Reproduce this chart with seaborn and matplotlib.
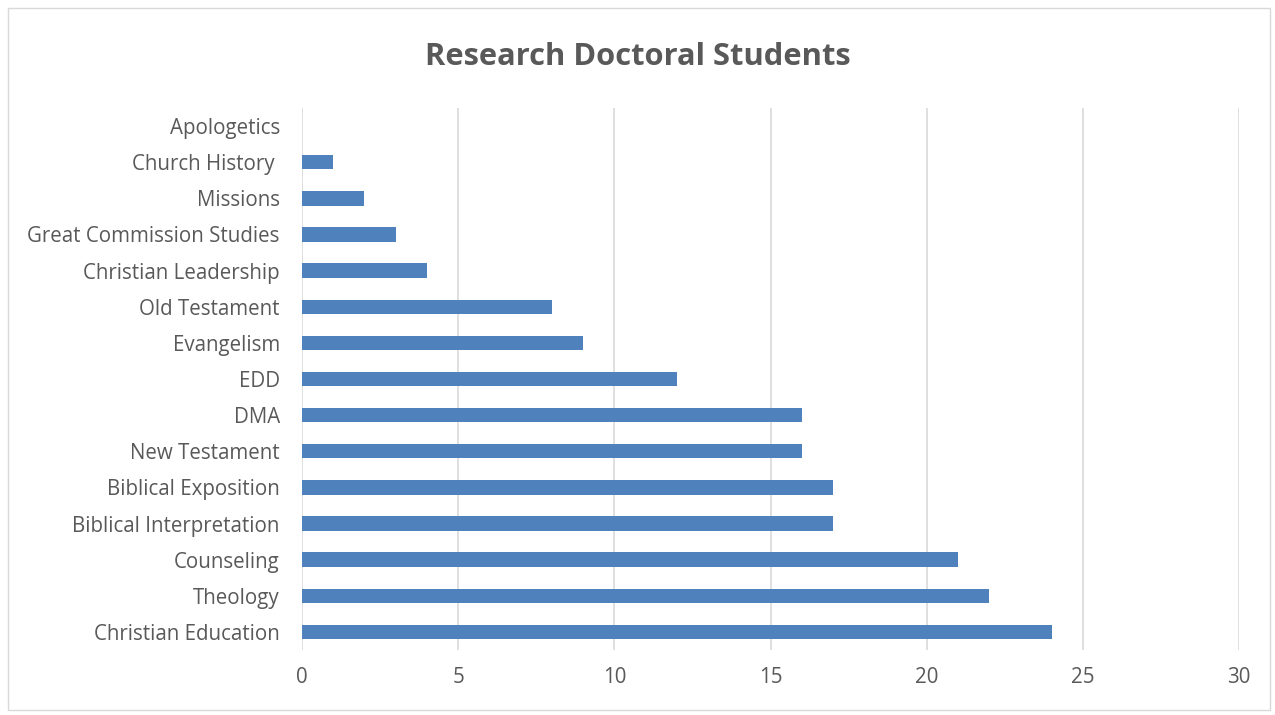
import matplotlib.pyplot as plt
import seaborn as sns
from matplotlib.patches import Rectangle

programs = [
    "Apologetics", "Church History ", "Missions", "Great Commission Studies",
    "Christian Leadership", "Old Testament", "Evangelism", "EDD", "DMA",
    "New Testament", "Biblical Exposition", "Biblical Interpretation",
    "Counseling", "Theology", "Christian Education",
]
students = [0, 1, 2, 3, 4, 8, 9, 12, 16, 16, 17, 17, 21, 22, 24]
x_ticks = [0, 5, 10, 15, 20, 25, 30]

sns.set_style("white")
plt.rcParams["font.family"] = ["Open Sans", "DejaVu Sans"]

fig = plt.figure(figsize=(12.75, 7.15), dpi=100)
ax = fig.add_axes([302 / 1275, 1 - 650 / 715, 937 / 1275, 542 / 715])

sns.barplot(x=students, y=programs, order=programs, orient="h",
            color="#4F81BD", saturation=1, width=0.4, linewidth=0,
            ax=ax, zorder=3)

ax.set_xlim(0, 30)
ax.set_ylim(14.5, -0.5)
ax.set_xticks(x_ticks)
ax.xaxis.grid(True, color="#D9D9D9", linewidth=1.2, zorder=0)
ax.yaxis.grid(False)
for s in ax.spines.values():
    s.set_visible(False)
ax.tick_params(axis="both", length=0, labelsize=14.8, labelcolor="#595959")
ax.tick_params(axis="x", pad=12)
ax.tick_params(axis="y", pad=16)
ax.set_xlabel("")
ax.set_ylabel("")

fig.text(0.5, 1 - 57 / 715, "Research Doctoral Students", ha="center", va="center",
         fontsize=22.2, fontweight="bold", color="#595959")

fig.patches.append(Rectangle((8 / 1275, 1 - 710 / 715), 1262 / 1275, 702 / 715,
                             transform=fig.transFigure, fill=False,
                             edgecolor="#D9D9D9", linewidth=1))

plt.savefig("out.png", dpi=100)
plt.close()
